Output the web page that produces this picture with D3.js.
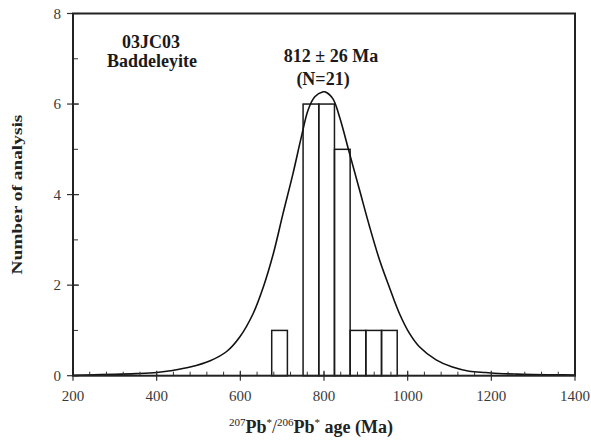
<!DOCTYPE html>
<html>
<head>
<meta charset="utf-8">
<script src="https://cdn.jsdelivr.net/npm/d3@7"></script>
<style>
  body { margin: 0; background: #fff; }
  svg { display: block; font-family: "Liberation Serif", "Times New Roman", serif; }
</style>
</head>
<body>
<svg></svg>
<script>
// histogram bins (Ma) and counts
var binStarts = [675, 712.5, 750, 787.5, 825, 862.5, 900, 937.5];
var binWidth = 37.5;
var binCounts = [1, 0, 6, 6, 5, 1, 1, 1];

// probability curve
var curveAges = [200, 250, 300, 350, 400, 433, 480, 528, 568, 599, 631, 655, 679, 702, 726, 746, 762, 778, 798, 802, 821, 837, 861, 885, 909, 933, 956, 980, 1004, 1028, 1068, 1107, 1147, 1187, 1218, 1260, 1300, 1350, 1400];
var curveValues = [0.01, 0.02, 0.03, 0.045, 0.07, 0.11, 0.19, 0.33, 0.54, 0.86, 1.38, 1.96, 2.7, 3.58, 4.47, 5.28, 5.87, 6.16, 6.27, 6.27, 6.12, 5.72, 4.91, 4.1, 3.29, 2.55, 1.96, 1.38, 0.94, 0.64, 0.35, 0.19, 0.1, 0.07, 0.05, 0.035, 0.025, 0.02, 0.015];

var xTicks = [200, 400, 600, 800, 1000, 1200, 1400];
var yTicks = [0, 2, 4, 6, 8];

var svgWidth = 591, svgHeight = 443;
var plotLeft = 73, plotRight = 575, plotTop = 13.5, plotBottom = 375.7;

var svg = d3.select('svg')
    .attr("width", svgWidth)
    .attr("height", svgHeight);

var xScale = d3.scaleLinear()
    .domain([200, 1400])
    .range([plotLeft, plotRight]);

var yScale = d3.scaleLinear()
    .domain([0, 8])
    .range([plotBottom, plotTop]);

// bars
svg.selectAll('rect.bar')
    .data(binStarts.filter(function(d, i){ return binCounts[i] > 0; }))
    .enter()
    .append("rect")
    .attr("class", "bar")
    .attr("x", function(d){ return xScale(d); })
    .attr("width", function(d){ return xScale(d + binWidth) - xScale(d); })
    .attr("y", function(d){ return yScale(binCounts[binStarts.indexOf(d)]); })
    .attr("height", function(d){ return plotBottom - yScale(binCounts[binStarts.indexOf(d)]); })
    .attr("fill", "none")
    .attr("stroke", "#1a1a1a")
    .attr("stroke-width", 1.5);

// curve
var line = d3.line()
    .x(function(d, i){ return xScale(curveAges[i]); })
    .y(function(d){ return yScale(d); })
    .curve(d3.curveCatmullRom.alpha(0.5));

svg.append("path")
    .attr("d", line(curveValues))
    .attr("fill", "none")
    .attr("stroke", "#111")
    .attr("stroke-width", 1.6);

// minor ticks (inward)
var xMinor = d3.range(200, 1401, 40);
svg.selectAll('line.xminor')
    .data(xMinor)
    .enter()
    .append("line")
    .attr("x1", function(d){ return xScale(d); })
    .attr("x2", function(d){ return xScale(d); })
    .attr("y1", plotBottom)
    .attr("y2", plotBottom - 4)
    .attr("stroke", "#333")
    .attr("stroke-width", 1);

svg.selectAll('line.yminor')
    .data(d3.range(0, 9, 1))
    .enter()
    .append("line")
    .attr("x1", plotLeft)
    .attr("x2", plotLeft + 5)
    .attr("y1", function(d){ return yScale(d); })
    .attr("y2", function(d){ return yScale(d); })
    .attr("stroke", "#333")
    .attr("stroke-width", 1);

// major ticks (crossing)
svg.selectAll('line.xmajor')
    .data(xTicks)
    .enter()
    .append("line")
    .attr("x1", function(d){ return xScale(d); })
    .attr("x2", function(d){ return xScale(d); })
    .attr("y1", plotBottom - 5)
    .attr("y2", plotBottom + 5)
    .attr("stroke", "#333")
    .attr("stroke-width", 1.2);

svg.selectAll('line.ymajor')
    .data(yTicks)
    .enter()
    .append("line")
    .attr("x1", plotLeft - 6)
    .attr("x2", plotLeft + 6)
    .attr("y1", function(d){ return yScale(d); })
    .attr("y2", function(d){ return yScale(d); })
    .attr("stroke", "#333")
    .attr("stroke-width", 1.2);

// frame
svg.append("rect")
    .attr("x", plotLeft)
    .attr("y", plotTop)
    .attr("width", plotRight - plotLeft)
    .attr("height", plotBottom - plotTop)
    .attr("fill", "none")
    .attr("stroke", "#222")
    .attr("stroke-width", 2);

// tick labels
svg.selectAll('text.xlab')
    .data(xTicks)
    .enter()
    .append("text")
    .attr("x", function(d){ return xScale(d); })
    .attr("y", 401)
    .attr("text-anchor", "middle")
    .attr("font-size", "15px")
    .attr("fill", "#3a3a3a")
    .text(function(d){ return d; });

svg.selectAll('text.ylab')
    .data(yTicks)
    .enter()
    .append("text")
    .attr("x", 61)
    .attr("y", function(d){ return yScale(d) + 5; })
    .attr("text-anchor", "end")
    .attr("font-size", "15px")
    .attr("fill", "#3a3a3a")
    .text(function(d){ return d; });

// axis titles
svg.append("text")
    .attr("transform", "translate(22," + ((plotTop + plotBottom) / 2) + ") rotate(-90)")
    .attr("text-anchor", "middle")
    .attr("font-size", "14px")
    .attr("font-weight", "bold")
    .attr("fill", "#222")
    .attr("textLength", 160)
    .attr("lengthAdjust", "spacingAndGlyphs")
    .text("Number of analysis");

var xt = svg.append("text")
    .attr("x", 311)
    .attr("y", 433)
    .attr("text-anchor", "middle")
    .attr("font-size", "18px")
    .attr("font-weight", "bold")
    .attr("fill", "#222");
xt.append("tspan").attr("font-size", "11px").attr("font-weight", "normal").attr("dy", -7).text("207");
xt.append("tspan").attr("dy", 7).text("Pb");
xt.append("tspan").attr("font-size", "11px").attr("font-weight", "normal").attr("dy", -7).text("*");
xt.append("tspan").attr("font-weight", "normal").attr("dy", 7).text("/");
xt.append("tspan").attr("font-size", "11px").attr("font-weight", "normal").attr("dy", -7).text("206");
xt.append("tspan").attr("dy", 7).text("Pb");
xt.append("tspan").attr("font-size", "11px").attr("font-weight", "normal").attr("dy", -7).text("*");
xt.append("tspan").attr("dy", 7).text(" age (Ma)");

// annotations
var notes = [
    {t: "03JC03", x: 151, y: 48},
    {t: "Baddeleyite", x: 152, y: 67},
    {t: "812 \u00B1 26 Ma", x: 331, y: 62},
    {t: "(N=21)", x: 323, y: 85}
];
svg.selectAll('text.note')
    .data(notes)
    .enter()
    .append("text")
    .attr("x", function(d){ return d.x; })
    .attr("y", function(d){ return d.y; })
    .attr("text-anchor", "middle")
    .attr("font-size", "18px")
    .attr("font-weight", "bold")
    .attr("fill", "#1a1a1a")
    .text(function(d){ return d.t; });
</script>
</body>
</html>
